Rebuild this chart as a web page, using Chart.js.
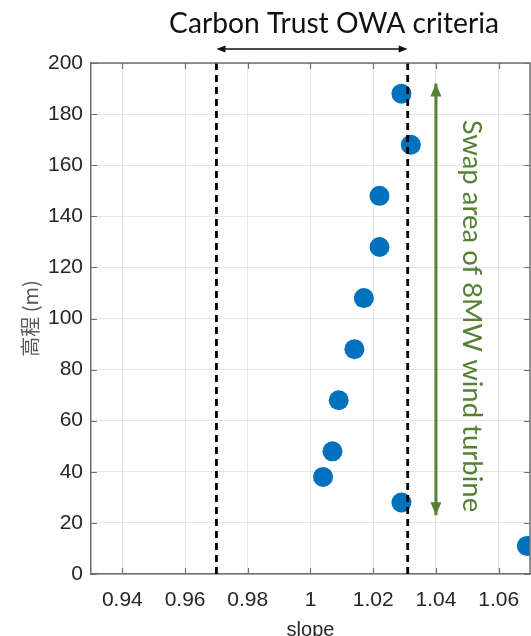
<!DOCTYPE html>
<html>
<head>
<meta charset="utf-8">
<script src="https://cdn.jsdelivr.net/npm/chart.js@4/dist/chart.umd.min.js"></script>
<style>
html, body { margin: 0; padding: 0; background: #fff; overflow: hidden; }
</style>
</head>
<body>
<canvas id="chart" width="531" height="650"></canvas>
<script>
// Data
const slope = [1.029, 1.032, 1.022, 1.022, 1.017, 1.014, 1.009, 1.007, 1.004, 1.029, 1.069];
const height = [188, 168, 148, 128, 108, 88, 68, 48, 38, 28, 11];

const criteriaSlopes = [0.97, 1.031];   // Carbon Trust OWA limits
const swapSlope = [1.04, 1.04];          // 8MW rotor swap area arrow
const swapHeight = [23, 192];

const xTicks = [0.94, 0.96, 0.98, 1, 1.02, 1.04, 1.06];
const xTickLabels = ['0.94', '0.96', '0.98', '1', '1.02', '1.04', '1.06'];
const yTicks = [0, 20, 40, 60, 80, 100, 120, 140, 160, 180, 200];

const axisColor = '#6e6e6e';
const green = '#548235';

function vline(x, y0, y1) {
    return [{ x: x, y: y0 }, { x: x, y: y1 }];
}

function fitFont(ctx, text, family, size, width) {
    ctx.font = size + 'px ' + family;
    const w = ctx.measureText(text).width;
    return Math.round(size * width / w * 10) / 10;
}

function arrowHead(ctx, x, y, dx, dy, len, half) {
    // tip at (x, y), pointing along (dx, dy)
    ctx.beginPath();
    ctx.moveTo(x, y);
    ctx.lineTo(x - dx * len - dy * half, y - dy * len + dx * half);
    ctx.lineTo(x - dx * len + dy * half, y - dy * len - dx * half);
    ctx.closePath();
    ctx.fill();
}

const decorations = {
    id: 'decorations',
    afterDatasetsDraw(chart) {
        const ctx = chart.ctx;
        const x = chart.scales.x;
        const y = chart.scales.y;
        const { left, right, top, bottom } = chart.chartArea;

        ctx.save();
        // box top and right edges
        ctx.strokeStyle = axisColor;
        ctx.lineWidth = 1.5;
        ctx.beginPath();
        ctx.moveTo(left, top);
        ctx.lineTo(right, top);
        ctx.lineTo(right, bottom);
        ctx.stroke();

        // inward tick marks on all four sides
        ctx.lineWidth = 1.2;
        ctx.beginPath();
        xTicks.forEach(v => {
            const px = Math.round(x.getPixelForValue(v)) + 0.5;
            ctx.moveTo(px, bottom); ctx.lineTo(px, bottom - 6);
            ctx.moveTo(px, top); ctx.lineTo(px, top + 6);
        });
        yTicks.forEach(v => {
            const py = Math.round(y.getPixelForValue(v)) + 0.5;
            ctx.moveTo(left, py); ctx.lineTo(left + 6, py);
            ctx.moveTo(right, py); ctx.lineTo(right - 6, py);
        });
        ctx.stroke();

        // green arrow heads
        ctx.fillStyle = green;
        const gx = x.getPixelForValue(swapSlope[0]);
        arrowHead(ctx, gx, y.getPixelForValue(swapHeight[1]), 0, -1, 13, 5.5);
        arrowHead(ctx, gx, y.getPixelForValue(swapHeight[0]), 0, 1, 13, 5.5);

        // black double arrow above the plot between the criteria lines
        const ax0 = x.getPixelForValue(criteriaSlopes[0]);
        const ax1 = x.getPixelForValue(criteriaSlopes[1]);
        const ay = 49;
        ctx.strokeStyle = '#111';
        ctx.fillStyle = '#111';
        ctx.lineWidth = 1.4;
        ctx.beginPath();
        ctx.moveTo(ax0 + 6, ay);
        ctx.lineTo(ax1 - 6, ay);
        ctx.stroke();
        arrowHead(ctx, ax0, ay, -1, 0, 9, 3.5);
        arrowHead(ctx, ax1, ay, 1, 0, 9, 3.5);

        // annotation texts
        const title = 'Carbon Trust OWA criteria';
        const tSize = fitFont(ctx, title, 'Lato', 26, 330);
        ctx.font = tSize + 'px Lato';
        ctx.fillStyle = '#111';
        ctx.textAlign = 'center';
        ctx.textBaseline = 'middle';
        ctx.fillText(title, 334, 24);

        const swapText = 'Swap area of 8MW wind turbine';
        const sSize = fitFont(ctx, swapText, 'Lato', 26, 392);
        ctx.translate(472, 316);
        ctx.rotate(Math.PI / 2);
        ctx.font = sSize + 'px Lato';
        ctx.fillStyle = green;
        ctx.fillText(swapText, 0, 0);
        ctx.restore();
    }
};

new Chart(document.getElementById('chart'), {
    type: 'scatter',
    data: {
        datasets: [
            {
                type: 'line',
                data: vline(criteriaSlopes[0], 0, 200),
                borderColor: '#000',
                borderWidth: 2.8,
                borderDash: [7, 5],
                pointRadius: 0
            },
            {
                type: 'line',
                data: vline(criteriaSlopes[1], 0, 200),
                borderColor: '#000',
                borderWidth: 2.8,
                borderDash: [7, 5],
                pointRadius: 0
            },
            {
                type: 'line',
                data: swapSlope.map((v, i) => ({ x: v, y: swapHeight[i] })),
                borderColor: green,
                borderWidth: 3,
                pointRadius: 0
            },
            {
                label: 'slope',
                data: slope.map((v, i) => ({ x: v, y: height[i] })),
                backgroundColor: '#0072BD',
                borderWidth: 0,
                pointRadius: 10,
                pointHoverRadius: 10
            }
        ]
    },
    options: {
        responsive: false,
        animation: false,
        events: [],
        layout: { autoPadding: false, padding: { top: 63, right: 1, left: 0, bottom: 0 } },
        plugins: {
            legend: { display: false },
            tooltip: { enabled: false }
        },
        scales: {
            x: {
                type: 'linear',
                min: 0.93,
                max: 1.07,
                afterBuildTicks: s => { s.ticks = xTicks.map(v => ({ value: v })); },
                afterFit: s => { s.height = 76; s.paddingLeft = 0; s.paddingRight = 0; },
                ticks: {
                    padding: 14,
                    color: '#262626',
                    font: { family: 'Liberation Sans', size: 21 },
                    callback: (v, i) => xTickLabels[i]
                },
                grid: { color: '#e6e6e6', lineWidth: 1, drawTicks: false },
                border: { color: axisColor, width: 1.5 },
                title: {
                    display: true,
                    text: 'slope',
                    color: '#262626',
                    font: { family: 'Liberation Sans', size: 20 },
                    padding: { top: 0, bottom: 8 }
                }
            },
            y: {
                type: 'linear',
                min: 0,
                max: 200,
                afterBuildTicks: s => { s.ticks = yTicks.map(v => ({ value: v })); },
                afterFit: s => { s.width = 91; s.paddingTop = 0; s.paddingBottom = 0; },
                ticks: {
                    padding: 8,
                    color: '#262626',
                    font: { family: 'Liberation Sans', size: 21 }
                },
                grid: { color: '#e6e6e6', lineWidth: 1, drawTicks: false },
                border: { color: axisColor, width: 1.5 },
                title: {
                    display: true,
                    text: '高程 (m)',
                    color: '#595959',
                    font: { family: 'Noto Sans CJK SC', size: 20 },
                    padding: { top: 18, bottom: 0 }
                }
            }
        }
    },
    plugins: [decorations]
});
</script>
</body>
</html>
